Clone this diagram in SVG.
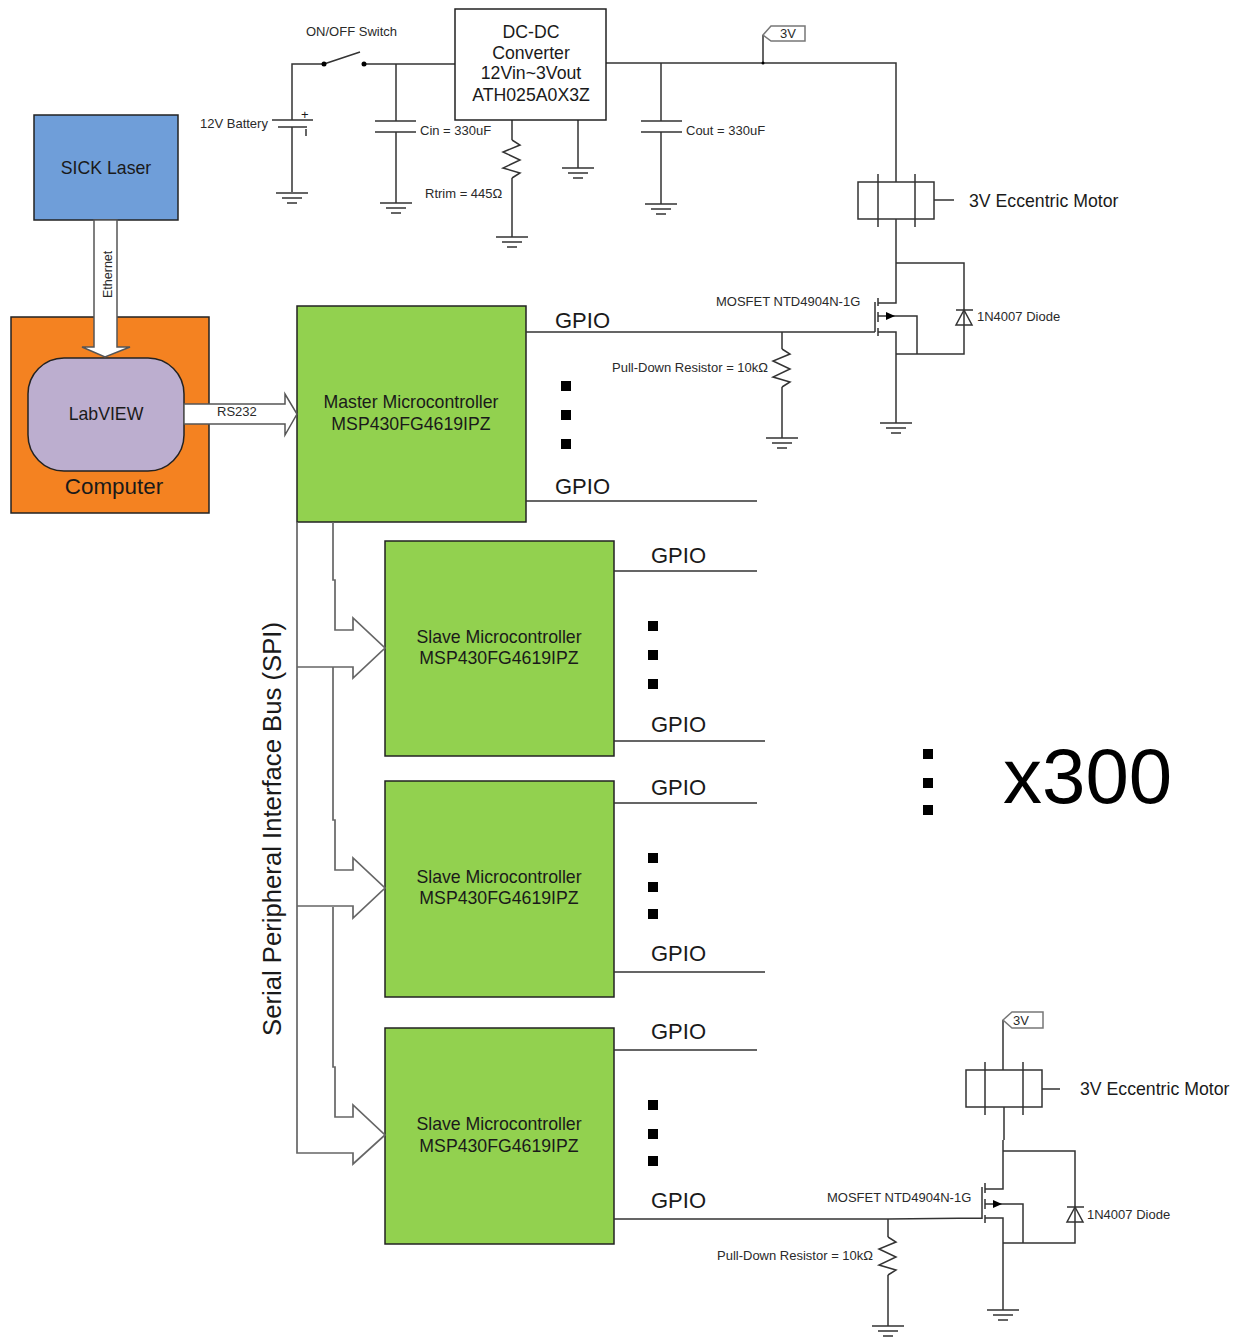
<svg xmlns="http://www.w3.org/2000/svg" xmlns:xlink="http://www.w3.org/1999/xlink" width="1239" height="1337" viewBox="0 0 1239 1337">
<style>
text{font-family:"Liberation Sans",Arial,sans-serif;fill:#1a1a1a}
.c{text-anchor:middle}
.s{font-size:13px;fill:#2a2a2a}
.m{font-size:17.7px}
.g{font-size:22px}
.box{stroke:#222;stroke-width:1.5}
.w{fill:none;stroke:#333;stroke-width:1.5}
.bus{fill:none;stroke:#666;stroke-width:1.7}
.d{fill:#000}
</style>
<defs>
<g id="gnd" class="w"><path d="M-16 0H16M-10 5H10M-5 10H5"/></g>
<path id="zig" class="w" d="M0 0L8 5L-9 12L8 20L-9 28L8 33L0 38"/>
<g id="diode" class="w"><path d="M-8 0H9M0 0L-8 15H8Z"/></g>
</defs>
<rect width="1239" height="1337" fill="#fff"/>

<g id="sick-laser"><rect class="box" x="34" y="115" width="144" height="105" fill="#6f9ed9"/><text class="c m" x="106" y="174">SICK Laser</text></g>
<g id="computer"><rect class="box" x="11" y="317" width="198" height="196" fill="#f48221"/><text class="c" style="font-size:22.4px" x="114" y="494">Computer</text></g>
<g id="labview"><rect class="box" x="28" y="358" width="156" height="113" rx="36" fill="#bcaecf"/><text class="c m" x="106" y="420">LabVIEW</text></g>
<g id="master"><rect class="box" x="297" y="306" width="229" height="216" fill="#92d14f"/><text class="c m" x="411" y="408">Master Microcontroller</text><text class="c m" x="411" y="430">MSP430FG4619IPZ</text></g>
<g id="slave-1"><rect class="box" x="385" y="541" width="229" height="215" fill="#92d14f"/><text class="c m" x="499" y="643">Slave Microcontroller</text><text class="c m" x="499" y="664">MSP430FG4619IPZ</text></g>
<g id="slave-2"><rect class="box" x="385" y="781" width="229" height="216" fill="#92d14f"/><text class="c m" x="499" y="883">Slave Microcontroller</text><text class="c m" x="499" y="904">MSP430FG4619IPZ</text></g>
<g id="slave-3"><rect class="box" x="385" y="1028" width="229" height="216" fill="#92d14f"/><text class="c m" x="499" y="1130">Slave Microcontroller</text><text class="c m" x="499" y="1152">MSP430FG4619IPZ</text></g>

<g id="connectors">
<!-- power input -->
<path class="w" d="M292 120V64H324M324 64L360 52M364 64H455"/>
<path class="w" d="M272 120H313M278 127H307M292 127V192M306 129V136"/>
<path class="w" d="M396 64V121M375 121H416M375 132H416M396 132V203"/>
<path class="w" d="M512 120V140M512 178V237M578 120V168"/>
<use xlink:href="#zig" href="#zig" x="512" y="140"/>
<use xlink:href="#gnd" href="#gnd" x="292" y="193"/>
<use xlink:href="#gnd" href="#gnd" x="396" y="203"/>
<use xlink:href="#gnd" href="#gnd" x="512" y="237"/>
<use xlink:href="#gnd" href="#gnd" x="578" y="168"/>
<!-- output -->
<path class="w" d="M606 63H896V182M661 63V121M641 121H682M641 132H682M661 132V204M763 63V35"/>
<use xlink:href="#gnd" href="#gnd" x="661" y="204"/>
<circle class="d" cx="324" cy="64" r="2.5"/><circle class="d" cx="364" cy="64" r="2.5"/><circle class="d" cx="763" cy="63" r="1.5"/>
<!-- top driver -->
<path class="w" d="M896 219V303H878M875 302V332M878 298V306M878 312V322M878 328V336M878 332H896V423M878 316H893M893 316H917V354M896 354H964V263H896M526 332H875M782 332V349M782 387V438M934 200H954"/>
<path class="d" d="M886 312L895 316L886 320Z"/>
<use xlink:href="#zig" href="#zig" x="782" y="349"/>
<use xlink:href="#gnd" href="#gnd" x="896" y="423"/>
<use xlink:href="#gnd" href="#gnd" x="782" y="438"/>
<use xlink:href="#diode" href="#diode" x="964" y="310"/>
<!-- GPIO lines -->
<path class="w" d="M526 501H757M614 571H757M614 741H765M614 803H757M614 972H765M614 1050H757M614 1219H888"/>
<!-- bottom driver -->
<path class="w" d="M1003 1020V1070M1004 1107V1140M1003 1140V1189H985M982 1187V1219M985 1183V1193M985 1199V1209M985 1215V1223M888 1219L982 1218M985 1218H1003V1310M985 1204H1002M1002 1204H1023V1243M1003 1243H1075V1151H1003M888 1219V1237M888 1275V1326M1042 1089H1060"/>
<path class="d" d="M993 1200L1002 1204L993 1208Z"/>
<use xlink:href="#zig" href="#zig" x="888" y="1237"/>
<use xlink:href="#gnd" href="#gnd" x="1003" y="1310"/>
<use xlink:href="#gnd" href="#gnd" x="888" y="1326"/>
<use xlink:href="#diode" href="#diode" x="1075" y="1207"/>
<!-- system arrows -->
<path d="M94 220V347H82L105 357L130 347H117V220Z" fill="#fff" stroke="#555" stroke-width="1.5"/>
<path d="M184 404H285V394L297 414L285 435V424H184Z" fill="#fff" stroke="#555" stroke-width="1.5"/>
<path class="bus" d="M297 522V1153H353V1164L385 1135L353 1105V1117H335V1067H333V907M297 667H353V678L385 648L353 618V630H335V580H333V522M297 906H353V918L385 888L353 858V870H335V820H333V667"/>
</g>

<g id="ethernet-label"><text class="s" style="font-size:12.5px" transform="translate(112 298) rotate(-90)">Ethernet</text></g>
<g id="rs232-label"><text class="s" x="217" y="416">RS232</text></g>
<g id="bus-label"><text style="font-size:25.7px" transform="translate(281 1036) rotate(-90)">Serial Peripheral Interface Bus (SPI)</text></g>

<g id="gpio-labels">
<text class="g" x="555" y="328">GPIO</text><text class="g" x="555" y="494">GPIO</text>
<text class="g" x="651" y="563">GPIO</text><text class="g" x="651" y="732">GPIO</text>
<text class="g" x="651" y="795">GPIO</text><text class="g" x="651" y="961">GPIO</text>
<text class="g" x="651" y="1039">GPIO</text><text class="g" x="651" y="1208">GPIO</text>
</g>
<g id="ellipses" class="d">
<rect x="561" y="381" width="10" height="10"/><rect x="561" y="410" width="10" height="10"/><rect x="561" y="439" width="10" height="10"/>
<rect x="648" y="621" width="10" height="10"/><rect x="648" y="650" width="10" height="10"/><rect x="648" y="679" width="10" height="10"/>
<rect x="648" y="853" width="10" height="10"/><rect x="648" y="882" width="10" height="10"/><rect x="648" y="909" width="10" height="10"/>
<rect x="648" y="1100" width="10" height="10"/><rect x="648" y="1129" width="10" height="10"/><rect x="648" y="1156" width="10" height="10"/>
<rect x="923" y="749" width="10" height="10"/><rect x="923" y="778" width="10" height="10"/><rect x="923" y="805" width="10" height="10"/>
</g>
<g id="multiplier"><text x="1003" y="803" style="font-size:78px;fill:#000">x300</text></g>

<g id="dc-dc"><rect class="box" x="455" y="9" width="151" height="111" fill="#fff"/>
<text class="c m" x="531" y="38">DC-DC</text><text class="c m" x="531" y="59">Converter</text><text class="c m" x="531" y="79">12Vin~3Vout</text><text class="c m" x="531" y="101">ATH025A0X3Z</text></g>
<g id="power-labels">
<text class="s" x="306" y="36">ON/OFF Switch</text>
<text class="s" x="200" y="128">12V Battery</text>
<text x="301" y="119" style="font-size:13px">+</text>
<text class="s" x="420" y="135">Cin = 330uF</text>
<text class="s" x="425" y="198">Rtrim = 445Ω</text>
<text class="s" x="686" y="135">Cout = 330uF</text>
</g>
<g id="tag-top"><path d="M763 35L771 26H805V41H771Z" fill="#fff" stroke="#777" stroke-width="1.5"/><text class="s" x="780" y="38">3V</text></g>
<g id="motor-top"><rect class="w" x="858" y="182" width="76" height="37"/><path class="w" d="M878 174V227M915 174V227"/><text class="m" x="969" y="207">3V Eccentric Motor</text></g>
<g id="mosfet-top-labels">
<text class="s" x="716" y="306">MOSFET NTD4904N-1G</text>
<text class="s" x="977" y="321">1N4007 Diode</text>
<text class="s" x="612" y="372">Pull-Down Resistor = 10kΩ</text>
</g>
<g id="tag-bottom"><path d="M1003 1020L1012 1012H1043V1028H1012Z" fill="#fff" stroke="#777" stroke-width="1.5"/><text class="s" x="1013" y="1025">3V</text></g>
<g id="motor-bottom"><rect class="w" x="966" y="1070" width="76" height="37"/><path class="w" d="M985 1062V1115M1023 1062V1115"/><text class="m" x="1080" y="1095">3V Eccentric Motor</text></g>
<g id="mosfet-bottom-labels">
<text class="s" x="827" y="1202">MOSFET NTD4904N-1G</text>
<text class="s" x="1087" y="1219">1N4007 Diode</text>
<text class="s" x="717" y="1260">Pull-Down Resistor = 10kΩ</text>
</g>
</svg>
